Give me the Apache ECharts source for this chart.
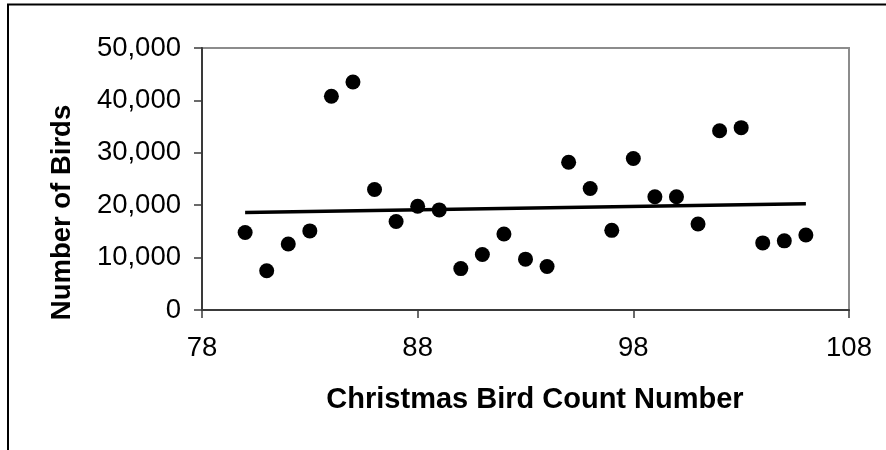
<!DOCTYPE html>
<html>
<head>
<meta charset="utf-8">
<script src="https://cdn.jsdelivr.net/npm/echarts@6/dist/echarts.min.js"></script>
<style>html,body{margin:0;padding:0;background:#fff}#c{width:886px;height:450px}</style>
</head>
<body>
<div id="c"></div>
<script>
const countNumbers = [80,81,82,83,84,85,86,87,88,89,90,91,92,93,94,95,96,97,98,99,100,101,102,103,104,105,106];
const birdCounts = [14800,7500,12600,15100,40800,43500,23000,16900,19800,19100,7900,10600,14500,9700,8300,28200,23200,15200,28900,21600,21600,16400,34200,34800,12800,13200,14300];
const trendX = [80,106];
const trendY = [18600,20300];
const xTicks = [78,88,98,108];
const yTicks = [0,10000,20000,30000,40000,50000];
const xTitle = 'Christmas Bird Count Number';
const yTitle = 'Number of Birds';

const chart = echarts.init(document.getElementById('c'), null, {renderer:'canvas'});
const font = '"Liberation Sans", Arial, sans-serif';
chart.setOption({
  animation:false,
  backgroundColor:'#fff',
  grid:{left:202,top:48,right:37,bottom:140,show:true,borderColor:'#8c8c8c',borderWidth:2,backgroundColor:'transparent'},
  xAxis:{type:'value',min:xTicks[0],max:xTicks[xTicks.length-1],interval:10,
    axisLine:{show:true,onZero:false,lineStyle:{color:'#3a3a3a',width:2}},
    axisTick:{show:true,length:8,lineStyle:{color:'#3a3a3a',width:1.5}},
    splitLine:{show:false},
    axisLabel:{margin:24,fontSize:27.5,color:'#000',fontFamily:font}},
  yAxis:{type:'value',min:yTicks[0],max:yTicks[yTicks.length-1],interval:10000,
    axisLine:{show:true,lineStyle:{color:'#3a3a3a',width:2}},
    axisTick:{show:true,length:8,lineStyle:{color:'#3a3a3a',width:1.5}},
    splitLine:{show:false},
    axisLabel:{margin:21,fontSize:27.5,color:'#000',fontFamily:font,formatter:v=>v.toLocaleString('en-US')}},
  series:[
    {type:'line',data:trendX.map((x,i)=>[x,trendY[i]]),symbol:'none',lineStyle:{color:'#000',width:3.5},z:2},
    {type:'scatter',data:countNumbers.map((x,i)=>[x,birdCounts[i]]),symbol:'circle',symbolSize:15,itemStyle:{color:'#000',opacity:1},z:3}
  ],
  graphic:[
    {type:'polyline',shape:{points:[[8,450],[8,4.5],[886,4.5]]},style:{stroke:'#000',lineWidth:2,fill:null}},
    {type:'text',x:535,y:400,style:{text:xTitle,font:'bold 29px '+font,fill:'#000',align:'center',verticalAlign:'middle'}},
    {type:'text',x:62.5,y:212.5,rotation:Math.PI/2,style:{text:yTitle,font:'bold 27.5px '+font,fill:'#000',align:'center',verticalAlign:'middle'}}
  ]
});
</script>
</body>
</html>
